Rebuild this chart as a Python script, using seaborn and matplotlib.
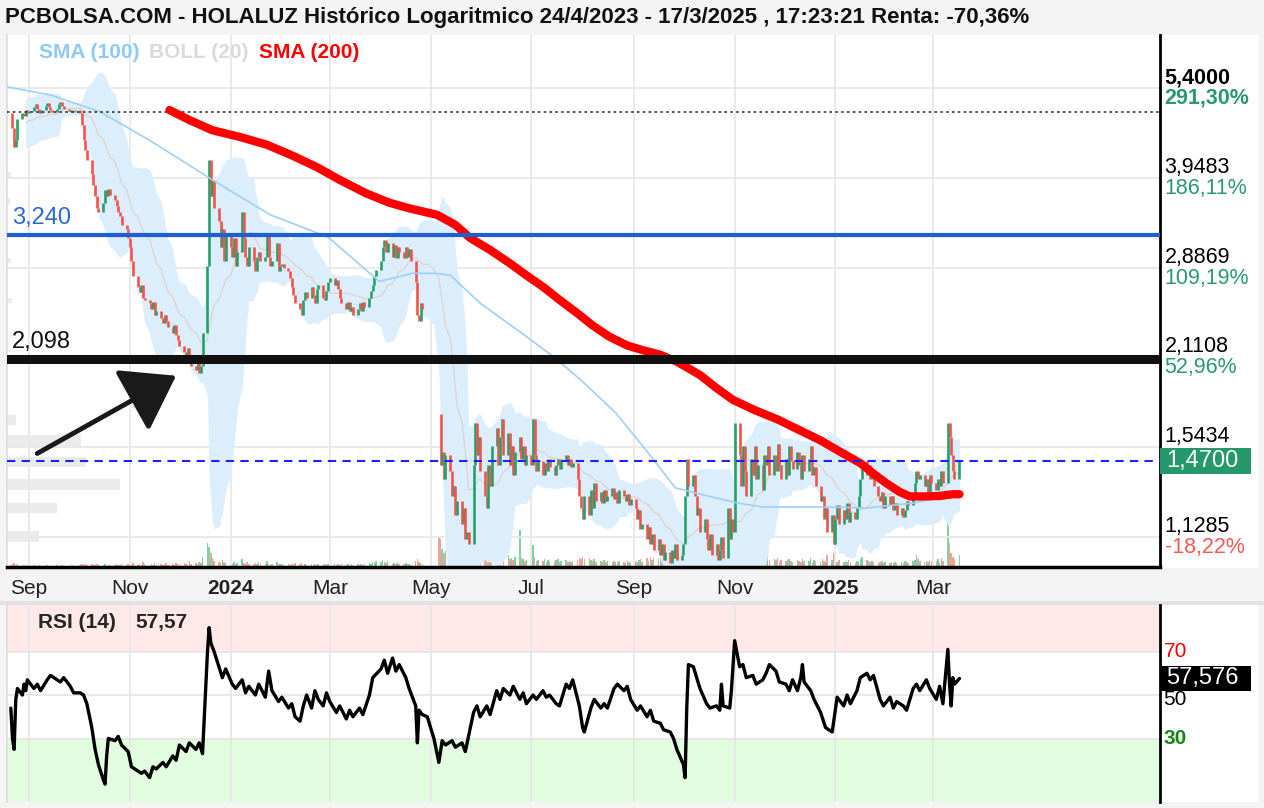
import numpy as np
import pandas as pd
import seaborn as sns
import matplotlib.pyplot as plt
import matplotlib.dates as mdates
from matplotlib.patches import Rectangle
from matplotlib.ticker import NullLocator
from matplotlib.transforms import blended_transform_factory

sns.set_theme(style='white')
plt.rcParams['font.family'] = ['Liberation Sans', 'DejaVu Sans']

# ---- cierres diarios (por mes) ----
c_2023_08 = [4.95, 4.7, 4.4, 4.5, 4.85, 4.95, 4.9, 5.0, 4.95]
c_2023_09 = [4.98, 5.05, 5.1, 5.02, 4.95, 5.0, 5.08, 5.12, 5.05, 5.0, 4.97, 5.02, 5.1, 5.15, 5.08,
             5.02, 4.98, 5.0, 4.96, 4.98, 5.0]
c_2023_10 = [4.95, 4.75, 4.5, 4.35, 4.2, 4.0, 3.85, 3.7, 3.55, 3.5, 3.62, 3.78, 3.7, 3.8, 3.72,
             3.65, 3.58, 3.5, 3.45, 3.35, 3.3, 3.2]
c_2023_11 = [3.1, 2.95, 2.8, 2.7, 2.65, 2.72, 2.6, 2.58, 2.55, 2.5, 2.56, 2.45, 2.48, 2.42, 2.38,
             2.45, 2.4, 2.35, 2.3, 2.36, 2.28, 2.24]
c_2023_12 = [2.2, 2.15, 2.12, 2.18, 2.1, 2.05, 2.02, 2.08, 2.0, 2.05, 2.3, 2.9, 4.2, 3.7, 3.9,
             3.55, 3.4, 3.1, 3.3, 2.95, 3.25]
c_2024_01 = [3.1, 3.0, 3.2, 2.9, 3.05, 3.5, 3.2, 3.0, 2.9, 3.1, 2.95, 2.85, 3.0, 3.05, 2.95,
             3.0, 3.25, 3.0, 2.9, 2.95, 3.15, 2.85, 2.9]
c_2024_02 = [2.92, 2.88, 2.85, 2.78, 2.7, 2.62, 2.55, 2.5, 2.45, 2.58, 2.65, 2.6, 2.7, 2.62, 2.55,
             2.68, 2.72, 2.6, 2.58, 2.66, 2.75]
c_2024_03 = [2.78, 2.72, 2.76, 2.68, 2.6, 2.55, 2.5, 2.56, 2.48, 2.52, 2.45, 2.5, 2.55, 2.48, 2.56,
             2.52, 2.6, 2.66, 2.72, 2.8, 2.86]
c_2024_04 = [2.95, 3.1, 3.18, 3.05, 3.15, 3.0, 3.12, 2.98, 3.1, 3.05, 2.98, 3.1, 3.0, 3.08, 2.95,
             2.75, 2.45, 2.4, 2.55, 2.5, None, None]
c_2024_05 = [None, None, None, 1.73, 1.45, 1.52, 1.38, 1.5, 1.42, 1.3, 1.35, 1.22, 1.28, 1.18, 1.25,
             1.12, 1.15, 1.1, 1.45, 1.68, 1.5, 1.6, 1.42]
c_2024_06 = [1.3, 1.25, 1.45, 1.35, 1.55, 1.65, 1.45, 1.6, 1.7, 1.5, 1.62, 1.45, 1.55, 1.4, 1.52,
             1.6, 1.48, 1.55, 1.45, 1.5]
c_2024_07 = [1.45, 1.7, 1.5, 1.42, 1.47, 1.4, 1.46, 1.42, 1.48, 1.44, 1.4, 1.45, 1.48, 1.43, 1.47,
             1.5, 1.45, 1.48, 1.44, 1.46, 1.38, 1.3, 1.25]
c_2024_08 = [1.2, 1.3, 1.22, 1.33, 1.25, 1.36, 1.28, 1.32, 1.27, 1.33, 1.28, 1.3, 1.34, 1.29, 1.32,
             1.27, 1.33, 1.3, 1.28, 1.31, 1.26, 1.29]
c_2024_09 = [1.25, 1.2, 1.24, 1.16, 1.18, 1.12, 1.17, 1.1, 1.14, 1.08, 1.12, 1.06, 1.1, 1.04, 1.07,
             1.03, 1.08, 1.05, 1.1, 1.04, 1.06]
c_2024_10 = [1.1, 1.3, 1.48, 1.35, 1.4, 1.3, 1.22, 1.25, 1.15, 1.2, 1.12, 1.08, 1.14, 1.06, 1.1,
             1.04, 1.08, 1.13, 1.05, 1.25, 1.12, 1.2, 1.15]
c_2024_11 = [1.68, 1.5, 1.35, 1.55, 1.42, 1.3, 1.48, 1.4, 1.55, 1.38, 1.45, 1.33, 1.5, 1.45, 1.55,
             1.4, 1.5, 1.42, 1.56, 1.45, 1.38]
c_2024_12 = [1.48, 1.4, 1.55, 1.47, 1.43, 1.52, 1.45, 1.38, 1.5, 1.42, 1.48, 1.55, 1.4, 1.44, 1.35,
             1.28, 1.3, 1.2, 1.25, 1.15, 1.22, 1.1]
c_2025_01 = [1.2, 1.26, 1.18, 1.24, 1.2, 1.27, 1.19, 1.23, 1.2, 1.25, 1.3, 1.38, 1.47, 1.4, 1.45,
             1.38, 1.42, 1.35, 1.3, 1.28, 1.32, 1.25, 1.3]
c_2025_02 = [1.26, 1.3, 1.24, 1.27, 1.22, 1.25, 1.21, 1.24, 1.28, 1.26, 1.3, 1.36, 1.42, 1.38, 1.4,
             1.35, 1.38, 1.32, 1.4, 1.36]
c_2025_03 = [1.33, 1.38, 1.35, 1.42, 1.36, 1.68, 1.6, 1.5, 1.42, 1.38, 1.47]

# ---- volumen (unidades relativas) ----
v_2023_08 = [2, 3, 4, 2, 3, 1, 2, 1, 2]
v_2023_09 = [1, 2, 1, 1, 2, 1, 1, 2, 1, 1, 1, 2, 1, 1, 2, 1, 1, 1, 2, 1, 1]
v_2023_10 = [2, 3, 2, 3, 2, 3, 2, 2, 3, 2, 2, 3, 1, 2, 2, 2, 3, 2, 2, 3, 2, 3]
v_2023_11 = [3, 2, 4, 2, 3, 2, 5, 3, 2, 3, 2, 4, 2, 3, 2, 2, 4, 2, 3, 2, 4, 3]
v_2023_12 = [3, 4, 3, 2, 6, 3, 4, 3, 5, 4, 10, 24, 20, 14, 9, 6, 5, 4, 7, 5, 4]
v_2024_01 = [4, 3, 5, 3, 4, 8, 4, 3, 5, 3, 3, 4, 3, 5, 3, 3, 6, 3, 2, 3, 5, 3, 3]
v_2024_02 = [3, 2, 3, 2, 3, 2, 4, 3, 4, 2, 3, 2, 3, 2, 3, 2, 3, 2, 3, 2, 3]
v_2024_03 = [2, 3, 2, 3, 2, 3, 2, 3, 2, 3, 2, 3, 2, 3, 2, 3, 4, 3, 5, 4, 6]
v_2024_04 = [5, 7, 5, 4, 6, 3, 4, 3, 5, 3, 3, 4, 3, 3, 2, 6, 8, 5, 4, 3, 0, 0]
v_2024_05 = [0, 0, 0, 30, 28, 18, 14, 16, 12, 10, 9, 11, 8, 10, 9, 12, 8, 10, 18, 25, 14, 16, 10]
v_2024_06 = [9, 7, 14, 8, 12, 16, 9, 11, 18, 7, 12, 8, 9, 7, 10, 37, 9, 8, 6, 7]
v_2024_07 = [8, 22, 10, 6, 7, 6, 8, 5, 7, 6, 5, 7, 8, 5, 6, 7, 5, 6, 5, 6, 7, 9, 8]
v_2024_08 = [10, 8, 9, 7, 6, 8, 5, 6, 5, 7, 5, 6, 5, 6, 5, 4, 6, 5, 4, 6, 5, 4]
v_2024_09 = [6, 5, 7, 8, 5, 9, 6, 10, 7, 9, 8, 10, 7, 12, 8, 11, 9, 14, 10, 16, 12]
v_2024_10 = [14, 20, 26, 12, 18, 14, 10, 9, 11, 9, 12, 10, 14, 11, 10, 15, 9, 12, 8, 18, 10, 8, 7]
v_2024_11 = [24, 14, 10, 9, 11, 8, 9, 7, 10, 8, 9, 7, 9, 8, 10, 7, 8, 7, 9, 6, 7]
v_2024_12 = [6, 7, 8, 6, 5, 7, 6, 5, 8, 6, 6, 9, 5, 7, 6, 5, 8, 6, 5, 12, 7, 14]
v_2025_01 = [6, 5, 7, 5, 6, 5, 7, 5, 4, 6, 5, 8, 10, 7, 6, 5, 6, 5, 4, 5, 6, 4, 5]
v_2025_02 = [4, 5, 4, 5, 4, 5, 4, 6, 5, 4, 6, 7, 12, 8, 6, 5, 6, 5, 7, 6]
v_2025_03 = [6, 8, 5, 9, 6, 66, 24, 14, 10, 8, 12]

# ---- medias móviles ----
sma100_dates = ['2023-08-19', '2023-09-14', '2023-10-14', '2023-11-13', '2023-12-21', '2024-01-25',
                '2024-02-29', '2024-03-31', '2024-04-20', '2024-05-04', '2024-05-13', '2024-05-31',
                '2024-06-28', '2024-07-15', '2024-07-31', '2024-08-21', '2024-09-10', '2024-09-26',
                '2024-10-08', '2024-11-03', '2024-11-18', '2024-12-25', '2025-01-20', '2025-02-17',
                '2025-03-03', '2025-03-17']
sma100_vals = [5.42, 5.27, 4.97, 4.50, 3.92, 3.47, 3.21, 2.75, 2.83, 2.83, 2.81, 2.55, 2.27, 2.11,
               1.95, 1.74, 1.51, 1.34, 1.316, 1.27, 1.253, 1.253, 1.249, 1.27, 1.293, 1.307]
sma200_dates = ['2023-11-25', '2023-12-07', '2023-12-21', '2024-01-07', '2024-01-23', '2024-02-07',
                '2024-02-22', '2024-03-07', '2024-03-23', '2024-04-06', '2024-04-18', '2024-05-05',
                '2024-05-16', '2024-05-25', '2024-06-06', '2024-06-18', '2024-06-28', '2024-07-08',
                '2024-07-18', '2024-07-29', '2024-08-07', '2024-08-17', '2024-08-28', '2024-09-06',
                '2024-09-17', '2024-09-27', '2024-10-11', '2024-10-21', '2024-10-31', '2024-11-13',
                '2024-11-27', '2024-12-10', '2024-12-23', '2025-01-04', '2025-01-16', '2025-01-25',
                '2025-02-01', '2025-02-09', '2025-02-15', '2025-02-25', '2025-03-05', '2025-03-13',
                '2025-03-17']
sma200_vals = [5.00, 4.83, 4.66, 4.55, 4.43, 4.27, 4.10, 3.92, 3.74, 3.62, 3.55, 3.47, 3.35, 3.20,
               3.07, 2.93, 2.81, 2.70, 2.58, 2.46, 2.36, 2.27, 2.20, 2.166, 2.13, 2.08, 1.985,
               1.897, 1.82, 1.757, 1.70, 1.639, 1.58, 1.518, 1.46, 1.401, 1.36, 1.32, 1.30, 1.30,
               1.302, 1.31, 1.31]

# ---- RSI (14) ----
rsi_dates = ['2023-08-21', '2023-08-22', '2023-08-23', '2023-08-24', '2023-08-25', '2023-08-28',
             '2023-08-29', '2023-08-30', '2023-08-31', '2023-09-04', '2023-09-06', '2023-09-08',
             '2023-09-12', '2023-09-14', '2023-09-18', '2023-09-20', '2023-09-22', '2023-09-26',
             '2023-09-28', '2023-10-02', '2023-10-04', '2023-10-06', '2023-10-09', '2023-10-11',
             '2023-10-13', '2023-10-16', '2023-10-17', '2023-10-18', '2023-10-19', '2023-10-23',
             '2023-10-25', '2023-10-27', '2023-10-31', '2023-11-02', '2023-11-06', '2023-11-08',
             '2023-11-10', '2023-11-13', '2023-11-15', '2023-11-17', '2023-11-21', '2023-11-23',
             '2023-11-27', '2023-11-29', '2023-12-01', '2023-12-05', '2023-12-07', '2023-12-11',
             '2023-12-13', '2023-12-15', '2023-12-18', '2023-12-19', '2023-12-20', '2023-12-22',
             '2023-12-27', '2023-12-29', '2024-01-02', '2024-01-04', '2024-01-08', '2024-01-10',
             '2024-01-12', '2024-01-16', '2024-01-18', '2024-01-22', '2024-01-24', '2024-01-26',
             '2024-01-30', '2024-02-01', '2024-02-05', '2024-02-07', '2024-02-09', '2024-02-12',
             '2024-02-14', '2024-02-16', '2024-02-19', '2024-02-21', '2024-02-23', '2024-02-26',
             '2024-02-28', '2024-03-01', '2024-03-05', '2024-03-07', '2024-03-11', '2024-03-13',
             '2024-03-15', '2024-03-19', '2024-03-21', '2024-03-25', '2024-03-27', '2024-04-01',
             '2024-04-03', '2024-04-05', '2024-04-08', '2024-04-10', '2024-04-12', '2024-04-16',
             '2024-04-18', '2024-04-22', '2024-04-23', '2024-04-24', '2024-04-26', '2024-04-29',
             '2024-05-03', '2024-05-06', '2024-05-08', '2024-05-10', '2024-05-14', '2024-05-16',
             '2024-05-20', '2024-05-22', '2024-05-27', '2024-05-29', '2024-05-31', '2024-06-04',
             '2024-06-06', '2024-06-10', '2024-06-12', '2024-06-14', '2024-06-18', '2024-06-20',
             '2024-06-24', '2024-06-26', '2024-06-28', '2024-07-02', '2024-07-04', '2024-07-08',
             '2024-07-10', '2024-07-12', '2024-07-16', '2024-07-18', '2024-07-22', '2024-07-24',
             '2024-07-26', '2024-07-30', '2024-08-01', '2024-08-02', '2024-08-06', '2024-08-08',
             '2024-08-12', '2024-08-14', '2024-08-16', '2024-08-20', '2024-08-22', '2024-08-26',
             '2024-08-28', '2024-08-30', '2024-09-03', '2024-09-05', '2024-09-09', '2024-09-11',
             '2024-09-13', '2024-09-17', '2024-09-19', '2024-09-23', '2024-09-25', '2024-09-27',
             '2024-10-01', '2024-10-02', '2024-10-03', '2024-10-04', '2024-10-07', '2024-10-09',
             '2024-10-11', '2024-10-15', '2024-10-17', '2024-10-21', '2024-10-23', '2024-10-24',
             '2024-10-25', '2024-10-29', '2024-10-30', '2024-11-01', '2024-11-04', '2024-11-06',
             '2024-11-08', '2024-11-12', '2024-11-14', '2024-11-18', '2024-11-20', '2024-11-22',
             '2024-11-26', '2024-11-28', '2024-12-02', '2024-12-04', '2024-12-06', '2024-12-09',
             '2024-12-11', '2024-12-12', '2024-12-13', '2024-12-17', '2024-12-19', '2024-12-23',
             '2024-12-26', '2024-12-30', '2025-01-02', '2025-01-06', '2025-01-08', '2025-01-10',
             '2025-01-14', '2025-01-16', '2025-01-20', '2025-01-22', '2025-01-24', '2025-01-28',
             '2025-01-30', '2025-02-03', '2025-02-05', '2025-02-07', '2025-02-11', '2025-02-13',
             '2025-02-17', '2025-02-19', '2025-02-21', '2025-02-25', '2025-02-27', '2025-03-03',
             '2025-03-05', '2025-03-07', '2025-03-10', '2025-03-11', '2025-03-12', '2025-03-13',
             '2025-03-14', '2025-03-17']
rsi_vals = [44, 30, 25, 48, 53, 50, 55, 52, 57, 53, 55, 52, 57, 59, 57, 56, 58, 54, 51, 51, 50, 46,
            35, 25, 18, 11, 9, 22, 30, 29, 31, 27, 24, 17, 15, 14, 15, 12, 17, 16, 19, 17, 22, 20,
            27, 24, 28, 25, 28, 23, 70, 81, 74, 70, 58, 62, 55, 53, 57, 51, 54, 50, 55, 49, 61, 52,
            47, 49, 44, 46, 40, 38, 45, 50, 44, 52, 48, 45, 51, 47, 42, 45, 39, 43, 40, 44, 41, 50,
            58, 62, 66, 60, 67, 61, 64, 58, 53, 45, 28, 43, 41, 40, 30, 19, 29, 27, 29, 26, 28, 24,
            42, 45, 40, 45, 41, 52, 48, 53, 50, 54, 48, 51, 46, 50, 48, 52, 49, 50, 46, 45, 55, 53,
            57, 45, 35, 33, 44, 48, 44, 46, 44, 53, 55, 52, 54, 48, 43, 45, 40, 43, 38, 37, 34, 33,
            30, 25, 18, 12, 44, 64, 63, 58, 53, 46, 44, 45, 43, 55, 45, 44, 52, 75, 63, 64, 58, 59,
            55, 57, 60, 64, 61, 56, 55, 52, 57, 52, 58, 64, 56, 52, 48, 42, 35, 33, 49, 45, 50, 46,
            52, 58, 60, 57, 59, 48, 45, 49, 44, 47, 45, 43, 53, 55, 52, 57, 53, 48, 54, 46, 71, 55,
            45, 58, 55, 57.6]

# ---- perfil de volumen (izquierda) ----
prof_lo = [1.667, 1.545, 1.441, 1.330, 1.227, 1.109, 2.93, 2.55, 3.60, 3.95]
prof_hi = [1.727, 1.611, 1.492, 1.381, 1.271, 1.152, 2.99, 2.60, 3.68, 4.03]
prof_w = [9, 74, 79, 113, 50, 32, 4, 5, 3, 4]

# ---- niveles ----
price_levels = [5.4, 3.9483, 2.8869, 2.1108, 1.5434, 1.1285]
price_labels = ['5,4000', '3,9483', '2,8869', '2,1108', '1,5434', '1,1285']
pct_labels = ['291,30%', '186,11%', '109,19%', '52,96%', '', '-18,22%']
last_price = 1.47
max_level = 4.97
support = 2.098
resist = 3.240

months = ['2023-08', '2023-09', '2023-10', '2023-11', '2023-12', '2024-01', '2024-02', '2024-03',
          '2024-04', '2024-05', '2024-06', '2024-07', '2024-08', '2024-09', '2024-10', '2024-11',
          '2024-12', '2025-01', '2025-02', '2025-03']
close_lists = [c_2023_08, c_2023_09, c_2023_10, c_2023_11, c_2023_12, c_2024_01, c_2024_02,
               c_2024_03, c_2024_04, c_2024_05, c_2024_06, c_2024_07, c_2024_08, c_2024_09,
               c_2024_10, c_2024_11, c_2024_12, c_2025_01, c_2025_02, c_2025_03]
vol_lists = [v_2023_08, v_2023_09, v_2023_10, v_2023_11, v_2023_12, v_2024_01, v_2024_02,
             v_2024_03, v_2024_04, v_2024_05, v_2024_06, v_2024_07, v_2024_08, v_2024_09,
             v_2024_10, v_2024_11, v_2024_12, v_2025_01, v_2025_02, v_2025_03]


def place(key, vals):
    p = pd.Period(key, 'M')
    start = max(p.start_time, pd.Timestamp('2023-08-21'))
    end = min(p.end_time, pd.Timestamp('2025-03-17'))
    days = pd.bdate_range(start, end)
    idx = np.round(np.linspace(0, len(days) - 1, len(vals))).astype(int)
    return pd.Series([np.nan if v is None else v for v in vals], index=days[idx], dtype=float)


closes = pd.concat([place(k, v) for k, v in zip(months, close_lists)])
vols = pd.concat([place(k, v) for k, v in zip(months, vol_lists)])
opens = closes.shift(1)
up = closes >= opens

mid = closes.rolling(20, min_periods=8).mean()
sd = closes.rolling(20, min_periods=8).std(ddof=0)
upper = mid + 2 * sd
lower = (mid - 2 * sd).clip(lower=0.5)

GREEN = '#26a06b'
RED = '#f2544c'

W, H = 1264, 808
fig = plt.figure(figsize=(W / 100, H / 100), dpi=100, facecolor='#f4f4f4')
fig.patches.append(Rectangle((7 / W, 1 - 568 / H), 1251 / W, 533 / H, transform=fig.transFigure,
                             facecolor='white', edgecolor='none', zorder=-2))
fig.patches.append(Rectangle((7 / W, 1 - 802 / H), 1251 / W, 197 / H, transform=fig.transFigure,
                             facecolor='white', edgecolor='none', zorder=-2))
fig.patches.append(Rectangle((0, 1 - 605 / H), 1, 4 / H, transform=fig.transFigure,
                             facecolor='#e2e2e2', edgecolor='none', zorder=-2))

ax = fig.add_axes([7 / W, 1 - 567 / H, 1153 / W, 532 / H])
axr = fig.add_axes([7 / W, 1 - 802 / H, 1153 / W, 197 / H])
axr.patch.set_visible(False)

ppd = 904 / 547
t0 = mdates.date2num(pd.Timestamp('2023-09-01'))
xlim = (mdates.num2date(t0 - 22 / ppd), mdates.num2date(t0 + 1131 / ppd))
tick_dates = pd.to_datetime(['2023-09-01', '2023-11-01', '2024-01-01', '2024-03-01', '2024-05-01',
                             '2024-07-01', '2024-09-01', '2024-11-01', '2025-01-01', '2025-03-01'])
tick_labels = ['Sep', 'Nov', '2024', 'Mar', 'May', 'Jul', 'Sep', 'Nov', '2025', 'Mar']

# --- volumen y perfil en ejes gemelos ---
axv = ax.twinx()
axp = ax.twiny()
vcol = np.where(up.reindex(vols.index).fillna(True), '#7fd3a3', '#f5a19b')
axv.bar(vols.index, vols.values, width=0.9, color=vcol, lw=0)
axv.set_ylim(0, 532)
axv.axis('off')
axp.barh(prof_lo, prof_w, height=np.array(prof_hi) - np.array(prof_lo), align='edge',
         color='#ebebeb', lw=0)
axp.set_xlim(0, 1153)
axp.axis('off')
ax.set_zorder(3)
axp.set_zorder(1)
axv.set_zorder(2)
ax.patch.set_visible(False)

# --- bandas de Bollinger ---
ok = upper.notna()
ax.fill_between(closes.index[ok], lower[ok], upper[ok], color='#dcedfb', lw=0, zorder=1)
sns.lineplot(x=mid.index[ok], y=mid[ok].values, ax=ax, color='#ddd5d0', lw=1.0, zorder=2)

# --- velas ---
valid = opens.notna() & closes.notna()
ax.vlines(closes.index[valid], np.minimum(opens, closes)[valid], np.maximum(opens, closes)[valid],
          colors=np.where(up[valid], GREEN, RED), lw=1.9, zorder=3)

# --- medias ---
sns.lineplot(x=pd.to_datetime(sma100_dates), y=sma100_vals, ax=ax, color='#9fd0f6', lw=1.2, zorder=4)
sns.lineplot(x=pd.to_datetime(sma200_dates), y=sma200_vals, ax=ax, color='#ff0000', lw=6,
             zorder=5, solid_capstyle='round', solid_joinstyle='round')

# --- líneas horizontales ---
ax.axhline(max_level, color='#333333', lw=1.2, ls=(0, (1.5, 2)), zorder=4)
ax.axhline(resist, color='#1f5fd6', lw=3, zorder=6)
ax.axhline(support, color='#111111', lw=6.5, zorder=6)
ax.axhline(last_price, color='#2020ff', lw=1.5, ls=(0, (4, 3)), zorder=6)

bt = blended_transform_factory(ax.transAxes, ax.transData)
ax.text(5 / 1153, resist * 1.02, '3,240', color='#2a6ad8', fontsize=17, transform=bt, va='bottom')
ax.text(5 / 1153, support * 1.02, '2,098', color='#111111', fontsize=17, transform=bt, va='bottom')

# --- flecha ---
ax.annotate('', xy=(pd.Timestamp('2023-11-29'), 1.98), xytext=(pd.Timestamp('2023-09-06'), 1.51),
            arrowprops=dict(arrowstyle='-|>,head_length=1.6,head_width=1.1', mutation_scale=20,
                            lw=3.5, color='#1a1a1a', shrinkA=0, shrinkB=0), zorder=7)

# --- leyenda ---
ax.text(32 / 1153, 0.968, 'SMA (100)', color='#8fc9f5', fontsize=15, fontweight='bold',
        transform=ax.transAxes, va='center')
ax.text(142 / 1153, 0.968, 'BOLL (20)', color='#dadada', fontsize=15, fontweight='bold',
        transform=ax.transAxes, va='center')
ax.text(252 / 1153, 0.968, 'SMA (200)', color='#ff0000', fontsize=15, fontweight='bold',
        transform=ax.transAxes, va='center')

# --- ejes principales ---
ax.set_yscale('log')
ax.set_ylim(1.0164, 6.496)
ax.set_xlim(*xlim)
ax.set_yticks(price_levels)
ax.yaxis.set_minor_locator(NullLocator())
ax.set_xticks(tick_dates)
ax.set_xticklabels(tick_labels)
ax.tick_params(axis='y', length=0, labelleft=False)
ax.tick_params(axis='x', length=0, pad=9, labelsize=15, labelcolor='#222222')
for lab in ax.get_xticklabels():
    if lab.get_text().isdigit():
        lab.set_fontweight('bold')
ax.grid(True, color='#e8e8e8', lw=1.3)
ax.set_axisbelow(True)
ax.set_xlabel('')
ax.set_ylabel('')
ax.spines['top'].set_visible(False)
ax.spines['left'].set_color('#dddddd')
ax.spines['right'].set_color('black')
ax.spines['right'].set_linewidth(2)
ax.spines['bottom'].set_color('black')
ax.spines['bottom'].set_linewidth(2.5)

for lv, pl, pc in zip(price_levels, price_labels, pct_labels):
    bold = 'bold' if lv == price_levels[0] else 'normal'
    pcol = '#f25a55' if pc.startswith('-') else '#2a9a6e'
    ax.annotate(pl, xy=(1.004, lv), xycoords=bt, xytext=(0, 7.5), textcoords='offset points',
                va='center', ha='left', fontsize=15.5, fontweight=bold, color='black')
    if pc:
        ax.annotate(pc, xy=(1.004, lv), xycoords=bt, xytext=(0, -7.5), textcoords='offset points',
                    va='center', ha='left', fontsize=15.5, fontweight=bold, color=pcol)

bh = np.exp(13 / 286.8)
ax.add_patch(Rectangle((1.0, last_price / bh), 91 / 1153, last_price * bh - last_price / bh,
                       transform=bt, facecolor='#26996c', edgecolor='none', clip_on=False, zorder=10))
ax.text(1.005, last_price, '1,4700', transform=bt, color='white', fontsize=17, va='center',
        ha='left', zorder=11)

# --- RSI ---
axr.axhspan(70, 100, color='#ffe8e8', lw=0, zorder=0)
axr.axhspan(0, 30, color='#e2fce0', lw=0, zorder=0)
sns.lineplot(x=pd.to_datetime(rsi_dates), y=rsi_vals, ax=axr, color='black', lw=2.4, zorder=3)
axr.set_xlim(*xlim)
axr.set_ylim(0.8, 91.4)
axr.set_yticks([30, 50, 70])
axr.set_xticks(tick_dates)
axr.tick_params(length=0, labelleft=False, labelbottom=False)
axr.grid(True, color='#e6e6e6', lw=1.3, zorder=1)
axr.set_axisbelow(True)
axr.set_xlabel('')
axr.set_ylabel('')
axr.spines['top'].set_visible(False)
axr.spines['bottom'].set_visible(False)
axr.spines['left'].set_color('#dddddd')
axr.spines['right'].set_color('black')
axr.spines['right'].set_linewidth(2)

rt = blended_transform_factory(axr.transAxes, axr.transData)
axr.text(1.003, 70, '70', transform=rt, color='#ee0000', fontsize=15, va='center')
axr.text(1.003, 48, '50', transform=rt, color='black', fontsize=15, va='center')
axr.text(1.003, 30, '30', transform=rt, color='#118811', fontsize=15, va='center', fontweight='bold')
rh = 12.5 / 197 * (91.4 - 0.8)
axr.add_patch(Rectangle((1.0, 57.6 - rh), 91 / 1153, 2 * rh, transform=rt, facecolor='black',
                        edgecolor='none', clip_on=False, zorder=10))
axr.text(1.005, 57.6, '57,576', transform=rt, color='white', fontsize=17, va='center', zorder=11)
axr.text(31 / 1153, 0.91, 'RSI (14)', transform=axr.transAxes, fontsize=15, fontweight='bold',
         va='center')
axr.text(128 / 1153, 0.91, '57,57', transform=axr.transAxes, fontsize=15, fontweight='bold',
         va='center')

# --- título ---
fig.text(5 / W, 1 - 18 / H, 'PCBOLSA.COM - HOLALUZ Histórico Logaritmico 24/4/2023 - 17/3/2025 , '
         '17:23:21 Renta: -70,36%', fontsize=16, fontweight='bold', va='center', ha='left',
         color='#111111')

fig.savefig('out.png', dpi=100, facecolor=fig.get_facecolor())
